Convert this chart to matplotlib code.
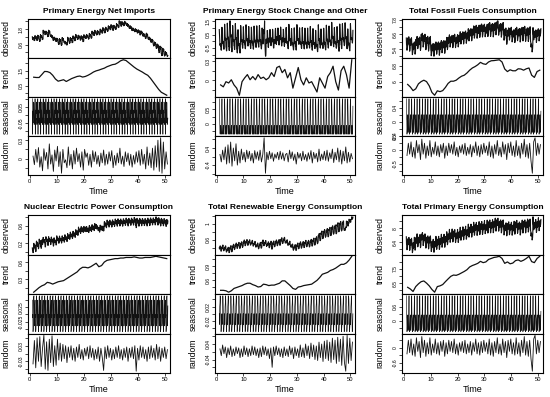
import numpy as np
import matplotlib.pyplot as plt
from matplotlib.ticker import MaxNLocator, FuncFormatter

plt.rcParams['font.family'] = ['Liberation Sans', 'DejaVu Sans']

# titres des panneaux
titles = ['Primary Energy Net Imports', 'Primary Energy Stock Change and Other',
          'Total Fossil Fuels Consumption', 'Nuclear Electric Power Consumption',
          'Total Renewable Energy Consumption', 'Total Primary Energy Consumption']
comp_labels = ['observed', 'trend', 'seasonal', 'random']

# tendance annuelle (t = 1.5 ... 50.5)
trend_1 = [1.07, 1.05, 1.05, 1.25, 1.46, 1.45, 1.38, 1.2, 0.95, 0.8,
           0.85, 0.9, 0.78, 0.88, 0.98, 1.05, 1.12, 1.15, 1.08, 1.12,
           1.2, 1.3, 1.42, 1.5, 1.55, 1.62, 1.68, 1.78, 1.85, 1.92,
           1.95, 2.05, 2.18, 2.25, 2.2, 2.05, 1.9, 1.75, 1.62, 1.52,
           1.42, 1.3, 1.2, 1.0, 0.75, 0.5, 0.25, 0.05, -0.05, -0.15]
trend_2 = [-0.07, -0.10, -0.02, -0.04, 0.01, -0.07, -0.12, -0.23, -0.02, 0.04,
           0.09, 0.01, 0.06, 0.01, 0.09, 0.03, 0.05, 0.01, 0.04, 0.12,
           0.06, 0.20, 0.22, 0.12, 0.17, 0.04, 0.12, -0.12, 0.04, 0.20,
           0.01, -0.07, 0.04, -0.04, -0.02, -0.10, -0.18, 0.04, -0.04, -0.12,
           0.06, 0.12, 0.22, -0.02, -0.15, 0.15, 0.22, 0.09, -0.12, 0.32]
trend_3 = [5.86, 5.73, 5.55, 5.64, 5.89, 6.0, 6.07, 6.0, 5.79, 5.46,
           5.32, 5.54, 5.5, 5.55, 5.71, 5.91, 6.02, 6.02, 6.07, 6.18,
           6.27, 6.32, 6.43, 6.57, 6.68, 6.75, 6.84, 6.96, 6.89, 6.86,
           6.98, 7.04, 7.05, 7.07, 7.09, 6.98, 6.63, 6.5, 6.59, 6.54,
           6.54, 6.64, 6.63, 6.57, 6.64, 6.68, 6.32, 6.21, 6.5, 6.57]
trend_4 = [0.08, 0.12, 0.16, 0.19, 0.21, 0.25, 0.24, 0.22, 0.24, 0.26,
           0.27, 0.28, 0.31, 0.34, 0.37, 0.40, 0.43, 0.48, 0.51, 0.51,
           0.50, 0.52, 0.55, 0.58, 0.52, 0.54, 0.60, 0.63, 0.64, 0.65,
           0.66, 0.66, 0.67, 0.67, 0.68, 0.68, 0.68, 0.69, 0.68, 0.67,
           0.67, 0.68, 0.68, 0.68, 0.69, 0.70, 0.69, 0.68, 0.67, 0.66]
trend_5 = [0.39, 0.39, 0.38, 0.35, 0.38, 0.43, 0.45, 0.47, 0.49, 0.52,
           0.54, 0.54, 0.51, 0.49, 0.46, 0.47, 0.52, 0.51, 0.49, 0.50,
           0.50, 0.52, 0.54, 0.59, 0.59, 0.54, 0.49, 0.43, 0.41, 0.46,
           0.47, 0.49, 0.50, 0.51, 0.52, 0.56, 0.60, 0.66, 0.73, 0.75,
           0.77, 0.81, 0.83, 0.86, 0.90, 0.94, 0.94, 0.97, 1.03, 1.11]
trend_6 = [6.22, 6.10, 5.93, 6.27, 6.46, 6.61, 6.66, 6.51, 6.32, 6.07,
           5.88, 6.27, 6.32, 6.41, 6.61, 6.80, 6.98, 7.07, 7.05, 7.12,
           7.22, 7.32, 7.44, 7.63, 7.73, 7.80, 7.88, 8.02, 7.93, 7.98,
           8.15, 8.22, 8.29, 8.32, 8.37, 8.22, 7.88, 7.98, 7.85, 7.90,
           8.07, 8.12, 8.02, 8.10, 8.22, 8.37, 8.0, 7.93, 8.22, 8.37]

# composante saisonnière (12 mois)
seasonal_1 = [0.10, -0.12, 0.02, -0.05, 0.03, 0.01, 0.08, 0.07, -0.06, -0.02, -0.04, -0.02]
seasonal_2 = [0.85, 0.45, 0.0, -0.3, -0.35, -0.2, -0.05, -0.05, -0.3, -0.35, -0.1, 0.6]
seasonal_3 = [0.65, 0.1, 0.05, -0.35, -0.25, -0.1, 0.2, 0.2, -0.3, -0.2, -0.05, 0.3]
seasonal_4 = [0.05, -0.01, 0.0, -0.06, -0.05, 0.0, 0.06, 0.065, 0.0, -0.04, -0.03, 0.03]
seasonal_5 = [0.0, -0.03, 0.02, 0.03, 0.05, 0.04, 0.01, -0.02, -0.05, -0.04, -0.03, 0.0]
seasonal_6 = [1.05, 0.2, 0.1, -0.45, -0.35, -0.1, 0.25, 0.25, -0.4, -0.3, -0.1, 0.4]

# composante aléatoire (tous les 6 mois)
random_1 = np.array([4, -10, 15, -6, 18, -14, 3, -20, 16, -3, 10, -17, 24, -9, 6, -21, 14, -4, 20, -13,
                     11, -24, 15, -7, -2, -15, 19, -11, 7, -17, 13, -9, 17, -5, 8, -14, 11, -19, 15, 2,
                     9, -11, 7, -14, 13, -5, 11, -9, 5, -13, 9, -7, 14, -11, 7, -9, 11, -4, 13, -15,
                     5, -11, 9, -7, 17, -9, 4, -13, 11, -5, 9, -11, 7, -14, 5, -9, 11, -6, 13, -11,
                     15, -9, 7, -17, 19, -11, 9, -15, 17, -19, 21, -14, 30, -21, 34, -24, 27, -17, 11, -9]) / 100
random_2 = np.array([10, -25, 30, -15, 45, -35, 55, -30, 68, -45, 40, -20, 60, -40, 25, -30, 35, -15, 20, -25,
                     30, -10, 25, -20, 15, -30, 28, -12, 22, -18, 30, -25, 10, 88, -78, 20, -15, 25, -10, 18,
                     -22, 12, -8, 20, -15, 25, -12, 18, -20, 10, 15, -25, 30, -10, 22, -18, 12, -35, 20, -8,
                     15, -20, 25, -15, 10, -22, 18, -12, 28, -30, 20, -10, 15, -25, 35, -20, 12, -15, 25, -18,
                     30, -22, 18, -10, 35, -28, 20, -15, 40, -25, 30, -35, 25, -20, 45, -30, 20, -25, 15, -10]) / 100
random_3 = np.array([-20, 25, -15, 30, -25, 10, -30, 35, -10, 20, -35, 40, -15, 25, -30, 15, -20, 35, -25, 10,
                     -15, 30, -20, 15, -25, 20, -10, 25, -30, 15, -20, 25, -10, 20, -15, 30, -20, 10, -25, 15,
                     -10, 20, -15, 25, -20, 10, -15, 20, -25, 15, -10, 30, -20, 15, -25, 20, -15, 25, -10, 15,
                     -20, 30, -25, 15, -30, 20, -15, 35, -20, 10, -25, 30, -15, 20, -35, 25, -10, 30, -20, 15,
                     -25, 35, -20, 15, -30, 25, -15, 40, -25, 20, -30, 25, -40, -85, 30, 45, -20, 25, -15, 20]) / 100
random_4 = np.array([-40, 50, -55, 60, -30, 65, -50, 20, 70, -60, 45, -65, 55, -35, 68, -50, 30, -45, 55, -25,
                     40, -30, 35, -20, 30, -35, 25, -15, 30, -25, 20, -30, 25, -15, 35, -20, 15, -25, 20, -10,
                     25, -20, 30, -15, 20, -25, 15, -20, 25, -30, 20, -15, -65, 25, -20, 30, -15, 20, -25, 15,
                     -20, 25, -15, 30, -20, 15, -25, 20, -15, 25, -30, 20, -15, 25, -20, 30, -68, 20, -25, 30,
                     -15, 25, -20, 15, -30, 25, -20, 30, -15, 20, -25, 35, -20, 25, -30, 20, -15, 25, -20, 15]) / 1000
random_5 = np.array([15, -20, 35, -10, 25, -30, 20, -15, 30, -25, 15, -20, 25, -10, 20, -30, 15, -25, 30, -15,
                     20, -25, 15, -20, 30, -15, 25, -20, 15, -30, 20, -25, 30, -15, 25, -20, 15, -35, 20, -80,
                     25, -20, 30, -15, 20, -25, 15, -30, 25, -20, 15, -25, 30, -15, 20, -35, 25, -20, 15, -30,
                     35, -25, 20, -30, 40, -20, 30, -35, 45, -25, 35, -40, 30, -45, 50, -30, 40, -50, 55, -35,
                     60, -45, 50, -55, 70, -40, 60, -60, 75, -50, 65, -70, 80, -55, -100, 85, -60, 70, -45, 50]) / 1000
random_6 = np.array([-25, 30, -20, 35, -30, 15, -35, 40, -15, 25, -40, 45, -20, 30, -35, 20, -25, 40, -30, 15,
                     -20, 35, -25, 20, -30, 25, -15, 30, -35, 20, -25, 30, -15, 25, -20, 35, -25, 15, -30, 20,
                     -15, 25, -20, 30, -25, 15, -20, 25, -30, 20, -15, 35, -25, 20, -30, 25, -20, 30, -15, 20,
                     -25, 35, -30, 20, -35, 25, -20, 40, -25, 15, -30, 35, -20, 25, -40, 30, -15, 35, -25, 20,
                     -30, 40, -25, 20, -35, 30, -20, 45, -30, 25, -35, 30, -45, -95, 35, 50, -25, 30, -20, 25]) / 100

trends = [trend_1, trend_2, trend_3, trend_4, trend_5, trend_6]
seasonals = [seasonal_1, seasonal_2, seasonal_3, seasonal_4, seasonal_5, seasonal_6]
randoms = [random_1, random_2, random_3, random_4, random_5, random_6]

n_years = 50
t_month = 1 + np.arange(n_years * 12) / 12
t_trend = 1.5 + np.arange(n_years)
t_random = 1.25 + 0.5 * np.arange(n_years * 2)

W, H = 550, 397
fig = plt.figure(figsize=(W / 100, H / 100), dpi=100)

cols = [(28, 170), (215, 355), (402, 543)]
rows = [(19, 175), (215, 373)]
line_w = [0.8, 0.9, 0.45, 0.6]


def every_other(v, pos):
    return ('%g' % round(v, 6)) if pos % 2 == 0 else ''


for p in range(6):
    r, c = divmod(p, 3)
    x0, x1 = cols[c]
    y0, y1 = rows[r]
    h = (y1 - y0) / 4
    trend = np.array(trends[p])
    seas = np.tile(seasonals[p], n_years)
    rnd = randoms[p]
    observed = np.repeat(trend, 12) + seas + np.repeat(rnd, 6)
    series = [(t_month, observed), (t_trend, trend), (t_month, seas), (t_random, rnd)]

    for k in range(4):
        top = y0 + k * h
        ax = fig.add_axes([x0 / W, 1 - (top + h) / H, (x1 - x0) / W, h / H])
        tx, ty = series[k]
        ax.plot(tx, ty, color='#111111', lw=line_w[k])
        ax.set_xlim(-0.6, 51.7)
        ax.margins(y=0.05)
        ax.yaxis.set_major_locator(MaxNLocator(6))
        ax.yaxis.set_major_formatter(FuncFormatter(every_other))
        ax.tick_params(axis='y', length=2, width=0.5, labelsize=3.6, pad=1, labelrotation=90)
        ax.set_ylabel(comp_labels[k], fontsize=6.2)
        ax.yaxis.set_label_coords(-17.5 / (x1 - x0), 0.5)
        for s in ax.spines.values():
            s.set_linewidth(0.8)
        if k < 3:
            ax.set_xticks([])
        else:
            ax.set_xticks([0, 10, 20, 30, 40, 50])
            ax.tick_params(axis='x', length=2, width=0.5, labelsize=4.2, pad=1)
            ax.set_xlabel('Time', fontsize=6.5, labelpad=2)
        for lab in ax.get_yticklabels():
            lab.set_va('center')
        if k == 0:
            ax.set_title(titles[p], fontsize=6.0, fontweight='bold', pad=4)

fig.savefig('out.png', dpi=100)
